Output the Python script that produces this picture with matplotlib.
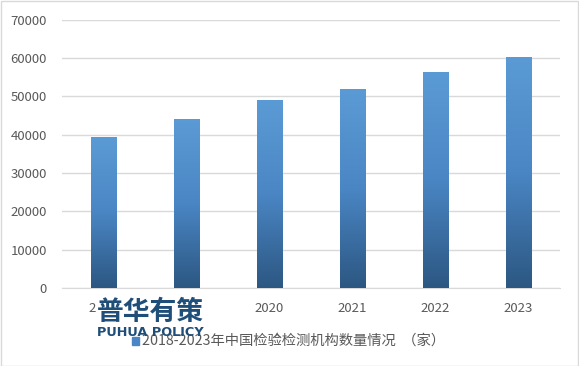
import matplotlib
matplotlib.use("Agg")
import matplotlib.pyplot as plt
import numpy as np
from matplotlib.colors import LinearSegmentedColormap

plt.rcParams['font.family'] = ['Noto Sans CJK SC', 'DejaVu Sans']

years = ['2018', '2019', '2020', '2021', '2022', '2023']
counts = [39400, 44100, 49000, 51900, 56400, 60300]
legend_label = '2018-2023年中国检验检测机构数量情况  （家）'

W, H = 579, 366
fig = plt.figure(figsize=(W / 100, H / 100), dpi=100)
ax = fig.add_axes([62 / W, (H - 288) / H, (560 - 62) / W, (288 - 19.7) / H])

cmap = LinearSegmentedColormap.from_list('bar', ['#2c5782', '#4a86c4', '#5b9bd5'])
x = np.arange(len(years))
bars = ax.bar(x, counts, width=0.31, color='none', edgecolor='none', zorder=3)
grad = np.linspace(0, 1, 256).reshape(-1, 1)
for b in bars:
    x0, y0 = b.get_x(), b.get_y()
    im = ax.imshow(grad, cmap=cmap, origin='lower', aspect='auto',
                   extent=[x0, x0 + b.get_width(), y0, y0 + b.get_height()], zorder=3)
    im.set_clip_path(b)

ax.set_xlim(-0.5, len(years) - 0.5)
ax.set_ylim(0, 70000)
ax.set_yticks(np.arange(0, 70001, 10000))
ax.set_xticks(x)
ax.set_xticklabels(years)
ax.grid(axis='y', color='#d9d9d9', linewidth=1, zorder=0)
for s in ['top', 'right', 'left']:
    ax.spines[s].set_visible(False)
ax.spines['bottom'].set_color('#d9d9d9')
ax.tick_params(length=0, labelsize=9.5, colors='#595959', pad=10)
ax.tick_params(axis='y', pad=11)

# legend
fig.patches.append(plt.Rectangle((132 / W, (H - 345) / H), 7 / W, 8 / H,
                                 transform=fig.transFigure, color='#4a86c4'))
fig.text(142 / W, (H - 341) / H, legend_label, fontsize=10.3, color='#595959', va='center')

# watermark (white backing hides the tick labels beneath, as in the original)
fig.text(97 / W, (H - 312) / H, '普华有策', fontsize=19.3, fontweight='bold',
         color='#1f4e79', va='center', zorder=5,
         bbox=dict(facecolor='white', edgecolor='none', pad=1))
fig.text(97 / W, (H - 333) / H, 'PUHUA POLICY', fontsize=9.3, fontweight='bold',
         color='#1f4e79', va='center', family='DejaVu Sans', zorder=5)

fig.patches.append(plt.Rectangle((0.5 / W, 0.5 / H), 1 - 1.5 / W, 1 - 1.5 / H,
                                 transform=fig.transFigure, fill=False,
                                 edgecolor='#d9d9d9', linewidth=1))

fig.savefig('out.png', dpi=100)
